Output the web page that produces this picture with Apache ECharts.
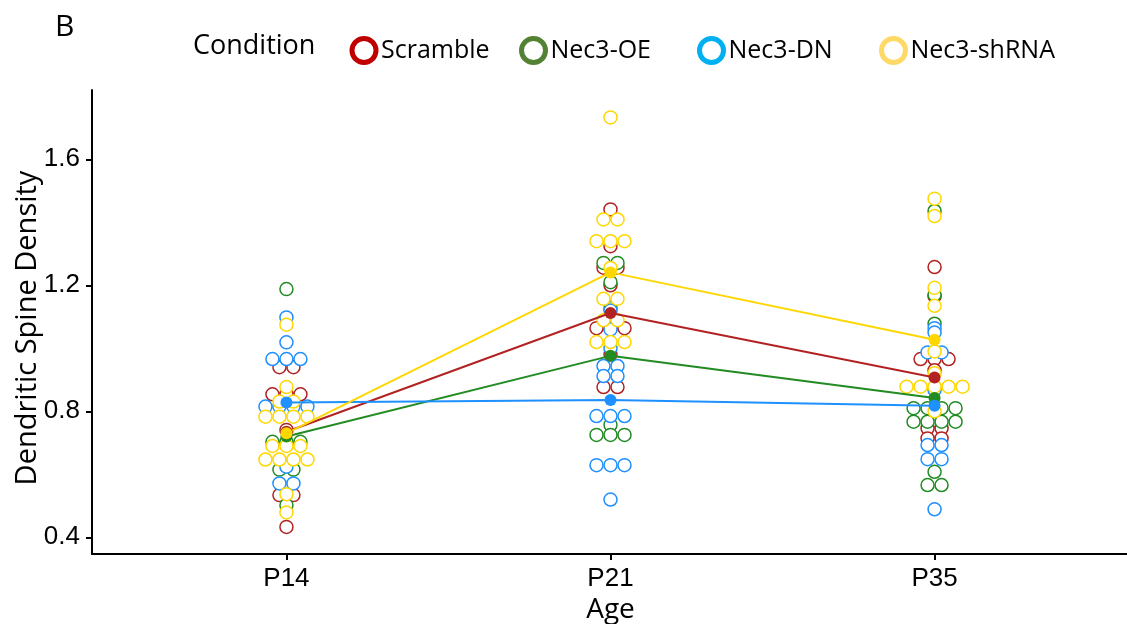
<!DOCTYPE html>
<html>
<head>
<meta charset="utf-8">
<script src="https://cdn.jsdelivr.net/npm/echarts@6/dist/echarts.min.js"></script>
<style>
  html, body { margin: 0; padding: 0; background: #fff; }
  #chart { width: 1127px; height: 624px; }
</style>
</head>
<body>
<div id="chart"></div>
<script>
// Ages on the x axis and experimental conditions
const ages = ['P14', 'P21', 'P35'];
const conditions = ['Scramble', 'Nec3-OE', 'Nec3-DN', 'Nec3-shRNA'];
const yTicks = [0.4, 0.8, 1.2, 1.6];

// Individual spine density measurements (repeated values stack side by side)
const scrambleP14 = [0.94, 0.94, 0.854, 0.854, 0.854, 0.741, 0.534, 0.534, 0.433];
const scrambleP21 = [1.441, 1.324, 1.256, 1.256, 1.20, 1.064, 1.064, 1.064, 0.98, 0.877, 0.877];
const scrambleP35 = [1.258, 1.165, 0.966, 0.966, 0.966, 0.93, 0.746, 0.746, 0.714, 0.714];

const oeP14 = [1.188, 0.703, 0.703, 0.703, 0.615, 0.615, 0.502];
const oeP21 = [1.271, 1.271, 1.21, 1.128, 0.757, 0.725, 0.725, 0.725];
const oeP35 = [1.436, 1.17, 1.078, 0.81, 0.81, 0.81, 0.81, 0.767, 0.767, 0.767, 0.767, 0.608, 0.566, 0.566];

const dnP14 = [1.098, 1.019, 0.966, 0.966, 0.966, 0.815, 0.815, 0.815, 0.815, 0.624, 0.571, 0.571];
const dnP21 = [1.12, 1.06, 1.0, 0.944, 0.944, 0.912, 0.912, 0.785, 0.785, 0.785, 0.629, 0.629, 0.629, 0.52];
const dnP35 = [1.064, 1.05, 0.987, 0.987, 0.868, 0.693, 0.693, 0.648, 0.648, 0.489];

const shP14 = [1.075, 0.877, 0.831, 0.831, 0.783, 0.783, 0.783, 0.783, 0.69, 0.69, 0.69, 0.647, 0.647, 0.647, 0.647, 0.537, 0.479];
const shP21 = [1.733, 1.409, 1.409, 1.34, 1.34, 1.34, 1.255, 1.157, 1.157, 1.089, 1.089, 1.02, 1.02, 1.02];
const shP35 = [1.475, 1.42, 1.192, 1.135, 0.99, 0.921, 0.878, 0.878, 0.878, 0.878, 0.878, 0.8];

// Group means per age
const scrambleMean = [0.735, 1.112, 0.907];
const oeMean = [0.72, 0.976, 0.842];
const dnMean = [0.828, 0.836, 0.818];
const shMean = [0.73, 1.241, 1.027];

const pointSets = [
  [scrambleP14, scrambleP21, scrambleP35],
  [oeP14, oeP21, oeP35],
  [dnP14, dnP21, dnP35],
  [shP14, shP21, shP35]
];
const means = [scrambleMean, oeMean, dnMean, shMean];

const dotColors = ['#B22222', '#228B22', '#1E90FF', '#FFD700'];
const legendColors = ['#C00000', '#548235', '#00B0F0', '#FFD966'];
const legendIconCenters = [361.5, 531, 709, 891];

// Horizontal distance between neighbouring dots in a stacked row (category units)
const dotStep = 14 / 324;

// Centre-stack equal values around the category position
function stackDots(values, xCenter) {
  const counts = new Map();
  values.forEach(v => counts.set(v, (counts.get(v) || 0) + 1));
  const out = [];
  counts.forEach((n, v) => {
    for (let i = 0; i < n; i++) {
      out.push([xCenter + (i - (n - 1) / 2) * dotStep, v]);
    }
  });
  return out;
}

const dotSeries = conditions.map((name, ci) => ({
  name: name,
  type: 'scatter',
  symbol: 'circle',
  symbolSize: 13,
  itemStyle: { color: '#fff', borderColor: dotColors[ci], borderWidth: 1.5, opacity: 1 },
  emphasis: { disabled: true },
  data: pointSets[ci].flatMap((vals, ai) => stackDots(vals, ai + 1)),
  z: 2
}));

const meanSeries = conditions.map((name, ci) => ({
  name: name,
  type: 'line',
  symbol: 'circle',
  symbolSize: 12,
  showSymbol: true,
  itemStyle: { color: dotColors[ci] },
  lineStyle: { color: dotColors[ci], width: 2 },
  emphasis: { disabled: true },
  data: means[ci].map((m, ai) => [ai + 1, m]),
  z: 3
}));

const legends = conditions.map((name, i) => ({
  data: [{ name: name, icon: 'circle' }],
  left: legendIconCenters[i] - 12,
  top: 36,
  itemWidth: 24,
  itemHeight: 24,
  itemGap: 0,
  padding: 0,
  selectedMode: false,
  itemStyle: { color: '#fff', borderColor: legendColors[i], borderWidth: 5 },
  textStyle: { fontFamily: 'Open Sans', fontSize: 25, lineHeight: 24, color: '#000', padding: [0, 0, 0, 0] }
}));

const axisText = { fontFamily: 'Liberation Sans', fontSize: 26, color: '#000' };
const titleText = { fontFamily: 'Open Sans', fontSize: 28, lineHeight: 28, color: '#000' };

const chart = echarts.init(document.getElementById('chart'), null, { renderer: 'canvas' });
chart.setOption({
  animation: false,
  backgroundColor: '#fff',
  title: [
    { text: 'B', left: 55, top: 12, padding: 0,
      textStyle: { fontFamily: 'Open Sans', fontSize: 30, lineHeight: 30, fontWeight: 'normal', color: '#000' } },
    { text: 'Condition', left: 193, top: 33, padding: 0,
      textStyle: { fontFamily: 'Open Sans', fontSize: 27, lineHeight: 27, fontWeight: 'normal', color: '#000' } }
  ],
  legend: legends,
  grid: { left: 92, top: 90, width: 1037, height: 464, outerBoundsMode: 'none', containLabel: false },
  xAxis: {
    type: 'value',
    min: 0.4,
    max: 3.6,
    name: 'Age',
    nameLocation: 'middle',
    nameGap: 42,
    nameMoveOverlap: false,
    nameTextStyle: titleText,
    axisLine: { onZero: false, lineStyle: { color: '#000', width: 2 } },
    axisTick: { show: true, length: 6, lineStyle: { color: '#000', width: 2 }, customValues: [1, 2, 3] },
    axisLabel: { ...axisText, margin: 12, customValues: [1, 2, 3], formatter: v => ages[Math.round(v) - 1] },
    splitLine: { show: false }
  },
  yAxis: {
    type: 'value',
    min: 0.347,
    max: 1.82,
    name: 'Dendritic Spine Density',
    nameLocation: 'middle',
    nameGap: 50,
    nameMoveOverlap: false,
    nameTextStyle: { ...titleText, fontSize: 29, lineHeight: 29, padding: [0, 12, 0, 0] },
    axisLine: { onZero: false, lineStyle: { color: '#000', width: 2 } },
    axisTick: { show: true, length: 6, lineStyle: { color: '#000', width: 2 }, customValues: yTicks },
    axisLabel: { ...axisText, margin: 12, customValues: yTicks, formatter: v => v.toFixed(1) },
    splitLine: { show: false }
  },
  series: [...dotSeries, ...meanSeries]
});
</script>
</body>
</html>
